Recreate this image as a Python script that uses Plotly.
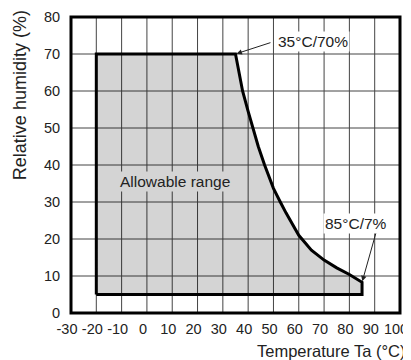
import plotly.graph_objects as go

# boundary of the allowable operating range
temp_min = -20
rh_min = 5
rh_max = 70
curve_temp = [35, 37.8, 40, 41.9, 44, 46.5, 50, 52.7, 55, 60, 65, 70, 75, 80, 85]
curve_rh = [70, 60, 54.5, 50, 45, 40, 33.7, 30, 27, 21, 17, 14.3, 12.2, 10.4, 8.3]

x_ticks = [-30, -20, -10, 0, 10, 20, 30, 40, 50, 60, 70, 80, 90, 100]
x_labels = ["-30", "-20", "-10", "0", "10", "20", "30", "40", "50", "60", "70", "80", "90", "100"]
y_ticks = [0, 10, 20, 30, 40, 50, 60, 70, 80]

FONT = "Liberation Sans, Arial, sans-serif"
FILL = "rgba(0,0,0,0.17)"
GRID = "#444"

poly_x = [temp_min, temp_min] + curve_temp + [curve_temp[-1], temp_min]
poly_y = [rh_min, rh_max] + curve_rh + [rh_min, rh_min]

fig = go.Figure()
fig.add_trace(go.Scatter(
    x=poly_x, y=poly_y,
    mode="lines",
    fill="toself",
    fillcolor=FILL,
    line=dict(color="black", width=3),
    hoverinfo="skip",
    showlegend=False,
))

# grid + frame as shapes
shapes = []
for t in x_ticks:
    shapes.append(dict(type="line", xref="x", yref="paper", x0=t, x1=t, y0=0, y1=1,
                       line=dict(color=GRID, width=1), layer="below"))
for r in y_ticks:
    shapes.append(dict(type="line", xref="paper", yref="y", x0=0, x1=1, y0=r, y1=r,
                       line=dict(color=GRID, width=1), layer="below"))
shapes.append(dict(type="rect", xref="paper", yref="paper", x0=0, x1=1, y0=0, y1=1,
                   line=dict(color="black", width=3), layer="above"))

annotations = [
    dict(x=11, y=35.5, text="Allowable range", showarrow=False,
         font=dict(size=15.5, color="#222"), bgcolor="#d4d4d4", borderpad=1),
    # point labels
    dict(x=65.5, y=73.3, text="35°C/70%", showarrow=False,
         font=dict(size=15.5, color="#222"), bgcolor="white"),
    dict(x=82.7, y=24.2, text="85°C/7%", showarrow=False,
         font=dict(size=15.5, color="#222"), bgcolor="white"),
    # arrows to the corner points
    dict(x=curve_temp[0], y=curve_rh[0], ax=49.4, ay=73.2, axref="x", ayref="y",
         text="", showarrow=True, arrowhead=2, arrowsize=1.1, arrowwidth=1,
         arrowcolor="#222", standoff=1),
    dict(x=curve_temp[-1], y=curve_rh[-1], ax=90.6, ay=21.9, axref="x", ayref="y",
         text="", showarrow=True, arrowhead=2, arrowsize=1.1, arrowwidth=1,
         arrowcolor="#222", standoff=1),
    # axis titles
    dict(xref="paper", yref="paper", x=-0.155, y=0.736, text="Relative humidity (%)",
         textangle=-90, showarrow=False, xanchor="center", yanchor="middle",
         font=dict(size=18, color="#222")),
    dict(xref="paper", yref="paper", x=0.79, y=-0.13, text="Temperature Ta (°C)",
         showarrow=False, xanchor="center", yanchor="middle",
         font=dict(size=16.5, color="#222")),
]

# page body has an 8px margin, so the figure is a bit smaller than the window
fig.update_layout(
    width=403, height=352,
    margin=dict(l=63, r=11, t=9, b=47),
    paper_bgcolor="white",
    plot_bgcolor="white",
    font=dict(family=FONT, color="#222"),
    shapes=shapes,
    annotations=annotations,
)
fig.update_xaxes(
    range=[-30, 100], tickvals=x_ticks, ticktext=x_labels,
    tickangle=0, showgrid=False, showline=False, zeroline=False,
    ticks="outside", ticklen=3, tickcolor="rgba(0,0,0,0)",
    ticklabelshift=-4, ticklabeloverflow="allow", automargin=False,
    tickfont=dict(size=14.5, color="#222"),
)
fig.update_yaxes(
    range=[0, 80], tickvals=y_ticks,
    showgrid=False, showline=False, zeroline=False,
    ticks="outside", ticklen=7, tickcolor="rgba(0,0,0,0)",
    automargin=False,
    tickfont=dict(size=14.5, color="#222"),
)

fig.write_html("out.html")
